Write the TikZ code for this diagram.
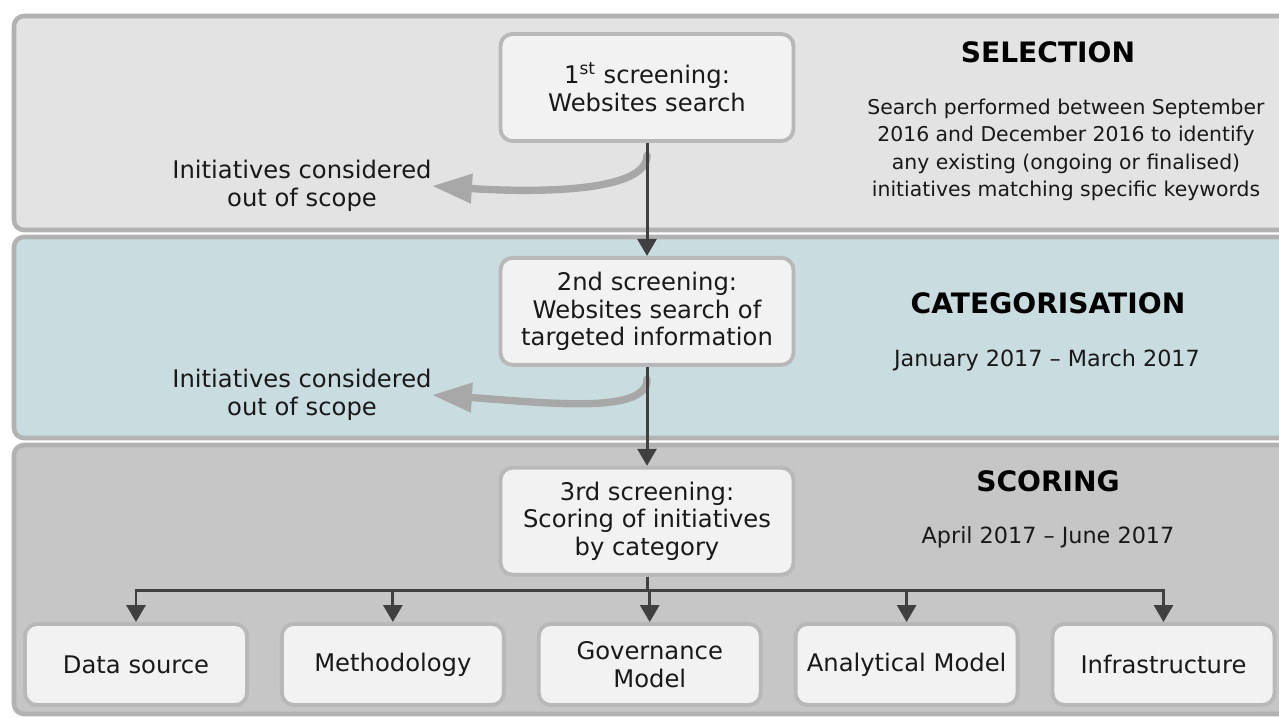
\documentclass[tikz,border=0pt]{standalone}
\usepackage{fontspec}
\setmainfont{DejaVu Sans}
\usepackage{xcolor}
\usepackage{tikz}
\usetikzlibrary{arrows.meta, positioning, calc}
\definecolor{bandGrey}{RGB}{227,227,227}
\definecolor{bandBlue}{RGB}{201,220,223}
\definecolor{bandDark}{RGB}{198,198,198}
\definecolor{bandLine}{RGB}{178,178,178}
\definecolor{boxFill}{RGB}{242,242,242}
\definecolor{boxLine}{RGB}{184,184,184}
\definecolor{arrowDark}{RGB}{64,64,64}
\definecolor{arrowLight}{RGB}{168,168,168}

\begin{document}
\begin{tikzpicture}[
    font=\fontsize{13.8}{15.8}\selectfont,
    band/.style={draw=bandLine, line width=2.6pt, rounded corners=0.2cm, fill=#1},
    box/.style={rectangle, draw=boxLine, fill=boxFill, line width=2.2pt, rounded corners=0.24cm, minimum width=5.86cm, minimum height=2.14cm, align=center, text=black!90},
    smallbox/.style={box, minimum width=4.44cm, minimum height=1.62cm},
    arrow/.style={-{Triangle[length=0.34cm, width=0.38cm]}, draw=arrowDark, line width=1.7pt},
    outarrow/.style={-{Triangle[length=0.8cm, width=0.56cm]}, draw=arrowLight, line width=4.2pt, line cap=round, shorten <=0.25cm},
    phase/.style={font=\fontsize{16}{18}\selectfont\bfseries, text=black},
    note/.style={align=center, text=black!90, inner sep=0pt, font=\fontsize{12.7}{15.5}\selectfont}
]
\useasboundingbox (0,0) rectangle (25.58,14.36);
\clip (0,0) rectangle (25.58,14.36);

% Bands
\draw[band=bandGrey] (0.28,14.04) rectangle (26.0,9.76);
\draw[band=bandBlue] (0.28,9.62) rectangle (26.0,5.6);
\draw[band=bandDark] (0.28,5.46) rectangle (26.0,0.08);

% Selection
\node[box] (s1) at (12.94,12.61) {1\textsuperscript{st} screening:\\Websites search};
\node[note, font=\fontsize{13.8}{15.8}\selectfont] (out1) at (6.04,10.64) {Initiatives considered\\out of scope};
\node[phase] (sel) at (20.96,13.32) {SELECTION};
\node[note, font=\fontsize{11.6}{15.5}\selectfont] (seltxt) at (21.32,11.36) {Search performed between September\\2016 and December 2016 to identify\\any existing (ongoing or finalised)\\initiatives matching specific keywords};

% Categorisation
\node[box, below=2.26cm of s1] (s2) {2nd screening:\\Websites search of\\targeted information};
\node[note, font=\fontsize{13.8}{15.8}\selectfont] (out2) at (6.04,6.46) {Initiatives considered\\out of scope};
\node[phase] (cat) at (20.96,8.3) {CATEGORISATION};
\node[note] (cattxt) at (20.94,7.16) {January 2017 – March 2017};

% Scoring
\node[box, below=1.98cm of s2] (s3) {3rd screening:\\Scoring of initiatives\\by category};
\node[phase] (sco) at (20.96,4.74) {SCORING};
\node[note] (scotxt) at (20.96,3.62) {April 2017 – June 2017};

% Categories
\node[smallbox] (ds) at (2.72,1.07) {Data source};
\node[smallbox, right=0.62cm of ds] (meth) {Methodology};
\node[smallbox, right=0.62cm of meth] (gov) {Governance\\Model};
\node[smallbox, right=0.62cm of gov] (anal) {Analytical Model};
\node[smallbox, right=0.62cm of anal] (infra) {Infrastructure};
\coordinate[below=0.27cm of s3] (fork);

% Arrows
\draw[outarrow] (s1.south) .. controls +(0,-0.98) and +(2.14,-0.14) .. (out1.east);
\draw[outarrow] (s2.south) .. controls +(0,-0.98) and +(2.14,-0.14) .. (out2.east);
\draw[arrow] (s1) -- (s2);
\draw[arrow] (s2) -- (s3);
\foreach \c in {ds,meth,gov,anal,infra}
    \draw[arrow] (s3.south) -- (fork) -| (\c.north);

\end{tikzpicture}
\end{document}
